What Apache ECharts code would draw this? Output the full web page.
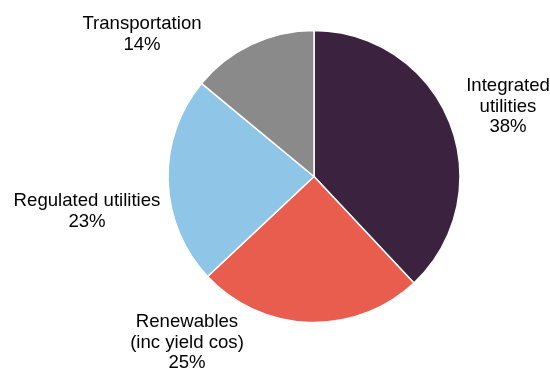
<!DOCTYPE html>
<html>
<head>
<meta charset="utf-8">
<script src="https://cdn.jsdelivr.net/npm/echarts@6/dist/echarts.min.js"></script>
<style>
  html, body { margin: 0; padding: 0; background: #ffffff; }
  #chart { width: 550px; height: 370px; }
</style>
</head>
<body>
<div id="chart"></div>
<script>
// Portfolio split by segment (percent), clockwise from 12 o'clock
const segments = ['Integrated\nutilities', 'Renewables\n(inc yield cos)', 'Regulated utilities', 'Transportation'];
const shares = [38, 25, 23, 14];
const colors = ['#3b2340', '#e85d4e', '#8fc6e8', '#8a8a8a'];

// Pie geometry and where each label block sits relative to the pie centre
const CX = 314, CY = 176.5, R = 146;
const labelOffsets = [[194, -70], [-127, 166], [-227, 35], [-172, -142]];

const chart = echarts.init(document.getElementById('chart'), null, { renderer: 'canvas' });

chart.setOption({
  animation: false,
  backgroundColor: '#ffffff',
  series: [{
    type: 'pie',
    center: [CX, CY],
    radius: [0, R],
    startAngle: 90,
    clockwise: true,
    avoidLabelOverlap: false,
    data: segments.map((name, i) => ({
      name: name,
      value: shares[i],
      itemStyle: { color: colors[i] }
    })),
    itemStyle: { borderColor: '#ffffff', borderWidth: 1.5 },
    label: {
      show: true,
      position: 'outside',
      formatter: '{b}\n{c}%',
      color: '#000000',
      fontFamily: 'Liberation Sans, Arial, sans-serif',
      fontSize: 18.6,
      lineHeight: 20.5,
      align: 'center'
    },
    labelLine: { show: false },
    labelLayout: function (params) {
      const off = labelOffsets[params.dataIndex];
      return {
        x: CX + off[0],
        y: CY + off[1],
        align: 'center',
        verticalAlign: 'middle',
        moveOverlap: false
      };
    },
    emphasis: { disabled: true }
  }]
});
</script>
</body>
</html>
